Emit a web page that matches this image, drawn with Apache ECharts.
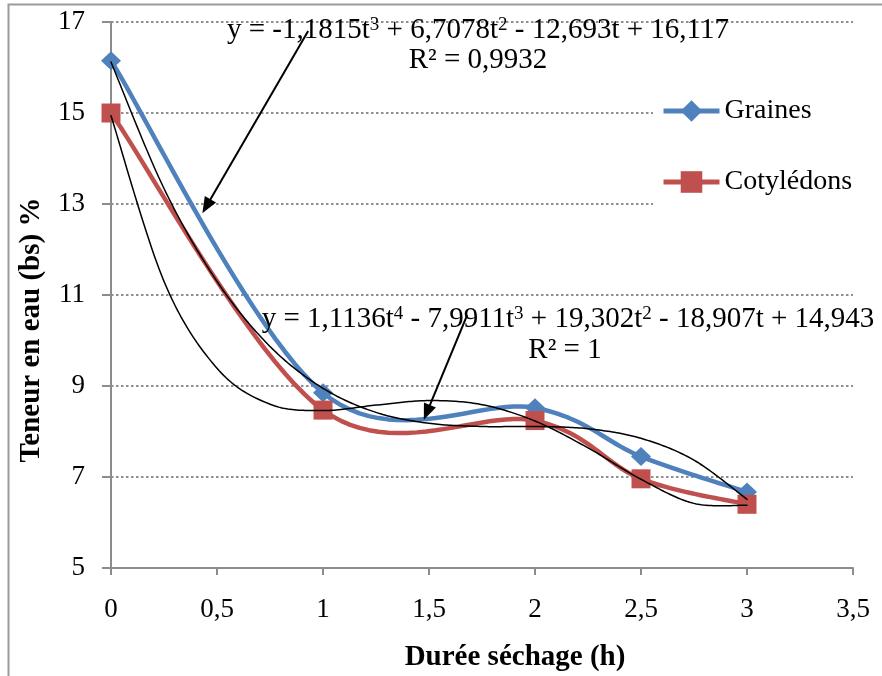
<!DOCTYPE html>
<html><head><meta charset="utf-8">
<script src="https://cdn.jsdelivr.net/npm/echarts@6/dist/echarts.min.js"></script>
<style>html,body{margin:0;padding:0;background:#fff}#c{width:882px;height:676px}</style>
</head><body><div id="c"></div>
<script>
// ---- data ----
const hours = [0, 1, 2, 2.5, 3];
const graines = [16.15, 8.85, 8.52, 7.45, 6.67];
const cotyledons = [15.0, 8.47, 8.24, 6.96, 6.4];
// trendline curves
const trendT = [0, 0.25, 0.5, 0.75, 1, 1.25, 1.5, 1.75, 2, 2.25, 2.5, 2.75, 3];
const trendGraines = [16.12, 13.34, 11.30, 9.87, 8.95, 8.42, 8.18, 8.11, 8.11, 8.06, 7.85, 7.37, 6.51];
const trendCotyledons = [14.94, 11.30, 9.39, 8.60, 8.46, 8.58, 8.68, 8.59, 8.23, 7.64, 6.95, 6.42, 6.38];
// annotation arrows [from, to] in data units
const arrowsData = [
  [[0.93, 16.8], [0.45, 12.95]],
  [[1.68, 10.56], [1.49, 8.42]]
];
const eq1 = ['y = -1,1815t{s|3} + 6,7078t{s|2} - 12,693t + 16,117', 'R² = 0,9932'];
const eq2 = ['y = 1,1136t{s|4} - 7,9911t{s|3} + 19,302t{s|2} - 18,907t + 14,943', 'R² = 1'];
const xTitle = 'Durée séchage (h)';
const yTitle = 'Teneur en eau (bs) %';

const FF = '"Liberation Serif", "Times New Roman", serif';
const BLUE = '#4F81BD', RED = '#C0504D';

function pairs(xs, ys) { return xs.map((x, i) => [x, ys[i]]); }

// Excel-like smoothed curve through points (bezier, 1/6 tangents, in pixel space)
function excelCurve(P) {
  const out = [P[0]];
  for (let i = 0; i < P.length - 1; i++) {
    const p0 = P[Math.max(i - 1, 0)], p1 = P[i], p2 = P[i + 1], p3 = P[Math.min(i + 2, P.length - 1)];
    const c1 = [p1[0] + (p2[0] - p0[0]) / 6, p1[1] + (p2[1] - p0[1]) / 6];
    const c2 = [p2[0] - (p3[0] - p1[0]) / 6, p2[1] - (p3[1] - p1[1]) / 6];
    for (let k = 1; k <= 24; k++) {
      const s = k / 24, u = 1 - s;
      const a = u * u * u, b = 3 * u * u * s, c = 3 * u * s * s, d = s * s * s;
      out.push([a * p1[0] + b * c1[0] + c * c2[0] + d * p2[0], a * p1[1] + b * c1[1] + c * c2[1] + d * p2[1]]);
    }
  }
  return out;
}
function curveSeries(name, xs, ys, color, width, z) {
  return {
    type: 'custom', name: name, coordinateSystem: 'cartesian2d', z: z, silent: true, clip: false,
    data: [[xs[0], ys[0]]],
    renderItem: function (params, api) {
      const P = xs.map((x, i) => api.coord([x, ys[i]]));
      return { type: 'polyline', shape: { points: excelCurve(P) },
        style: { stroke: color, lineWidth: width, fill: null, lineJoin: 'round', lineCap: 'round' } };
    }
  };
}

const chart = echarts.init(document.getElementById('c'), null, { renderer: 'canvas' });
const axisGray = '#8c8c8c';
const supStyle = { fontFamily: FF, fontSize: 19, verticalAlign: 'top', fill: '#000' };
chart.setOption({
  animation: false,
  backgroundColor: '#fff',
  grid: { left: 111, right: 29, top: 22, bottom: 108, containLabel: false },
  xAxis: {
    type: 'value', min: 0, max: 3.5, interval: 0.5,
    axisLine: { show: true, lineStyle: { color: axisGray, width: 2 } },
    axisTick: { show: true, length: 7, lineStyle: { color: axisGray, width: 2 } },
    axisLabel: { fontFamily: FF, fontSize: 27, color: '#000', margin: 28,
      formatter: v => String(v).replace('.', ',') },
    splitLine: { show: false }
  },
  yAxis: {
    type: 'value', min: 5, max: 17, interval: 2,
    axisLine: { show: true, lineStyle: { color: axisGray, width: 2 } },
    axisTick: { show: true, length: 9, lineStyle: { color: axisGray, width: 2 } },
    axisLabel: { fontFamily: FF, fontSize: 27, color: '#000', margin: 26 },
    splitLine: { show: true, lineStyle: { color: '#8f8f8f', width: 2, type: [2.5, 2.5] } }
  },
  legend: {
    data: ['Graines', 'Cotylédons'],
    orient: 'vertical', left: 653, top: 76,
    padding: [20, 20, 15, 8],
    backgroundColor: '#fff',
    itemWidth: 56, itemHeight: 27, itemGap: 41,
    textStyle: { fontFamily: FF, fontSize: 28, color: '#000', lineHeight: 30 },
    lineStyle: { opacity: 1, width: 5 },
    selectedMode: false
  },
  series: [
    curveSeries('Graines courbe', hours, graines, BLUE, 4.5, 2),
    { type: 'line', name: 'Graines', data: pairs(hours, graines), z: 3,
      symbol: 'diamond', symbolSize: [20, 19], showSymbol: true,
      lineStyle: { color: BLUE, width: 5, opacity: 0 }, itemStyle: { color: BLUE } },
    curveSeries('Cotylédons courbe', hours, cotyledons, RED, 4.5, 4),
    { type: 'line', name: 'Cotylédons', data: pairs(hours, cotyledons), z: 5,
      symbol: 'rect', symbolSize: 19, showSymbol: true,
      lineStyle: { color: RED, width: 5, opacity: 0 }, itemStyle: { color: RED } },
    curveSeries('Poly. (Graines)', trendT, trendGraines, '#000', 1.5, 6),
    curveSeries('Poly. (Cotylédons)', trendT, trendCotyledons, '#000', 1.5, 6),
    { type: 'line', name: 'flèches', data: [], z: 7,
      markLine: { silent: true, symbol: ['none', 'triangle'], symbolSize: [13, 16],
        label: { show: false },
        lineStyle: { color: '#000', width: 2, type: 'solid' },
        data: arrowsData.map(a => [{ coord: a[0] }, { coord: a[1] }]) } }
  ],
  graphic: [
    { type: 'rect', silent: true, z: 100, shape: { x: 8.5, y: 4.5, width: 900, height: 700 },
      style: { fill: null, stroke: '#9a9a9a', lineWidth: 2 } },
    { type: 'text', z: 100, x: 478, y: 30, style: { text: eq1[0], fontFamily: FF, fontSize: 29, fill: '#000',
      textAlign: 'center', textVerticalAlign: 'middle', rich: { s: supStyle } } },
    { type: 'text', z: 100, x: 478, y: 60, style: { text: eq1[1], fontFamily: FF, fontSize: 29, fill: '#000',
      textAlign: 'center', textVerticalAlign: 'middle' } },
    { type: 'text', z: 100, x: 568, y: 319, style: { text: eq2[0], fontFamily: FF, fontSize: 29, fill: '#000',
      textAlign: 'center', textVerticalAlign: 'middle', rich: { s: supStyle } } },
    { type: 'text', z: 100, x: 565, y: 350, style: { text: eq2[1], fontFamily: FF, fontSize: 29, fill: '#000',
      textAlign: 'center', textVerticalAlign: 'middle' } },
    { type: 'text', z: 100, x: 515, y: 658, style: { text: xTitle, fontFamily: FF, fontSize: 29, fontWeight: 'bold',
      fill: '#000', textAlign: 'center', textVerticalAlign: 'middle' } },
    { type: 'text', z: 100, x: 32, y: 330, rotation: Math.PI / 2, style: { text: yTitle, fontFamily: FF, fontSize: 29,
      fontWeight: 'bold', fill: '#000', textAlign: 'center', textVerticalAlign: 'middle' } }
  ]
});
</script></body></html>
